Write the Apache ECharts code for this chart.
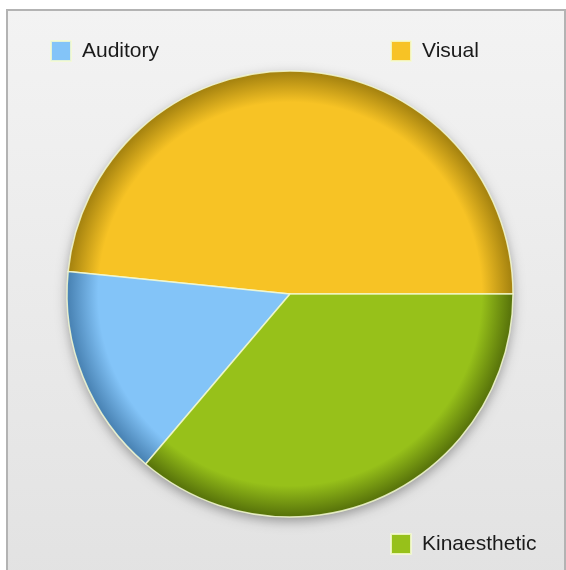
<!DOCTYPE html>
<html>
<head>
<meta charset="utf-8">
<style>
  html, body { margin: 0; padding: 0; background: #ffffff; }
  #chart { width: 566px; height: 570px; }
</style>
<script src="https://cdn.jsdelivr.net/npm/echarts@6/dist/echarts.min.js"></script>
</head>
<body>
<div id="chart"></div>
<script>
// Data
var categories = ['Visual', 'Auditory', 'Kinaesthetic'];
var values = [48.4, 15.4, 36.2];
var baseColors = ['#f7c325', '#83c4f8', '#97c11a'];
var rimColors = ['#a88510', '#4b85b6', '#5a760b'];

var cx = 290, cy = 294, R = 223;

function sliceColor(i) {
  return {
    type: 'radial', x: cx, y: cy, r: R, global: true,
    colorStops: [
      { offset: 0, color: baseColors[i] },
      { offset: 0.86, color: baseColors[i] },
      { offset: 0.99, color: rimColors[i] },
      { offset: 1, color: rimColors[i] }
    ]
  };
}

var pieData = categories.map(function (c, i) {
  return { name: c, value: values[i], itemStyle: { color: sliceColor(i) } };
});

var chart = echarts.init(document.getElementById('chart'), null, { renderer: 'canvas' });

function legendAt(name, left, top) {
  var i = categories.indexOf(name);
  return {
    data: [{ name: name, itemStyle: { color: baseColors[i] } }],
    left: left, top: top, orient: 'horizontal', padding: 0,
    icon: 'rect', itemWidth: 20, itemHeight: 20, itemGap: 10,
    selectedMode: false,
    textStyle: { fontFamily: 'Liberation Sans, Arial, sans-serif', fontSize: 21, color: '#1a1a1a', padding: [0, 0, 0, 6] }
  };
}

chart.setOption({
  animation: false,
  backgroundColor: '#ffffff',
  graphic: [{
    type: 'rect', z: -10, silent: true,
    shape: { x: 7, y: 10, width: 558, height: 575 },
    style: {
      fill: { type: 'linear', x: 0, y: 0, x2: 0, y2: 1, colorStops: [
        { offset: 0, color: '#f3f3f3' }, { offset: 1, color: '#e2e2e2' }] },
      stroke: '#b3b3b3', lineWidth: 2
    }
  }],
  legend: [
    legendAt('Auditory', 50, 40),
    legendAt('Visual', 390, 40),
    legendAt('Kinaesthetic', 390, 533)
  ],
  series: [
    {
      type: 'pie', silent: true, center: [cx, cy], radius: R,
      label: { show: false }, labelLine: { show: false },
      z: 1,
      itemStyle: { color: '#bbbbbb', shadowBlur: 12, shadowOffsetY: 4, shadowColor: 'rgba(0,0,0,0.35)' },
      data: [{ name: '__shadow', value: 1 }]
    },
    {
      type: 'pie', center: [cx, cy], radius: R,
      startAngle: 0, clockwise: false,
      z: 2,
      label: { show: false }, labelLine: { show: false },
      itemStyle: { borderColor: 'rgba(245,250,210,0.85)', borderWidth: 1.5 },
      emphasis: { disabled: true },
      data: pieData
    }
  ]
});
</script>
</body>
</html>
